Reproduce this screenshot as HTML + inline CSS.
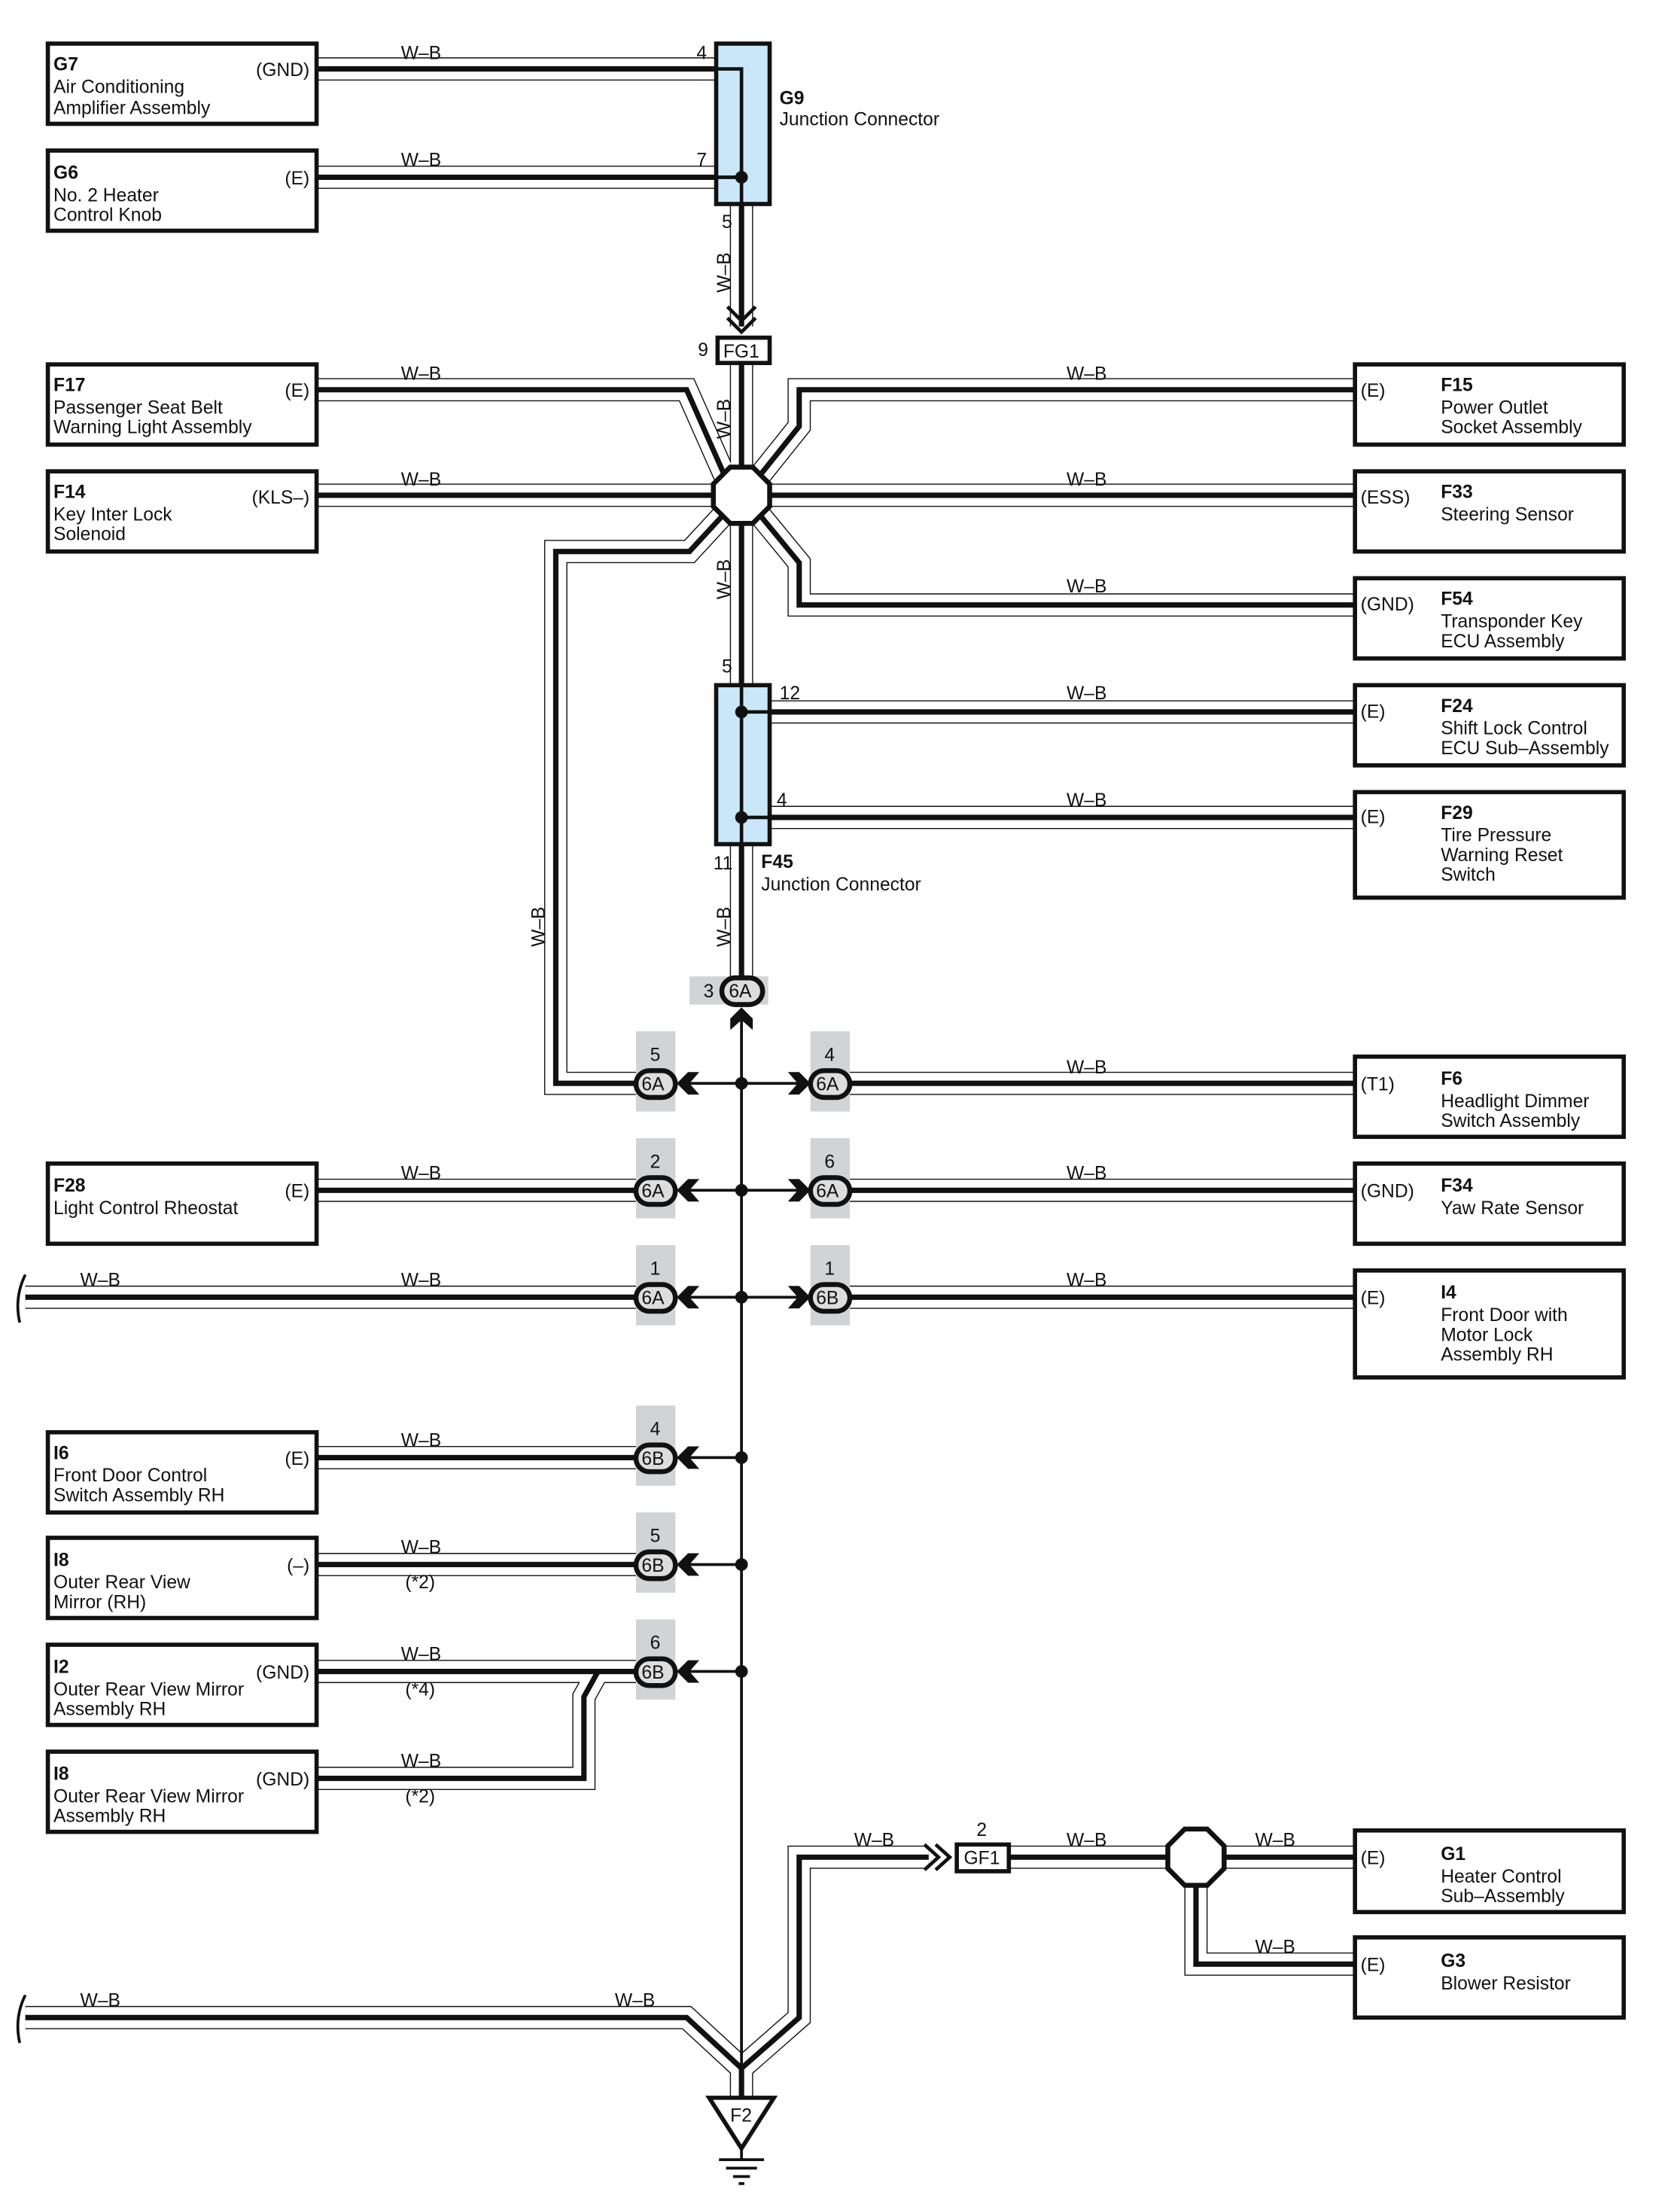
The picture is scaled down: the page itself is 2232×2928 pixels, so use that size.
<!DOCTYPE html>
<html><head><meta charset="utf-8"><style>
html,body{margin:0;padding:0;background:#fff}
svg{display:block}
text{font-family:"Liberation Sans",sans-serif;font-size:13.2px;fill:#111}
.b{font-weight:bold}
.box{fill:#fff;stroke:#111;stroke-width:3}
.o{fill:none;stroke:#111;stroke-width:16.5;stroke-linejoin:miter}
.i{fill:none;stroke:#fff;stroke-width:15}
.c{fill:none;stroke:#111;stroke-width:3.8}
.t{fill:none;stroke:#111;stroke-width:2}
.gr{fill:#d2d3d5}
.cn{fill:#ddd;stroke:#111;stroke-width:3.5}
</style></head><body>
<svg width="2232" height="2928" viewBox="0 0 1194 1566.5" preserveAspectRatio="none" xmlns="http://www.w3.org/2000/svg">
<defs>
<path id="w1" d="M225 49 H509"/>
<path id="w2" d="M225 126 H509"/>
<path id="w3" d="M527 145 V232"/>
<path id="w4" d="M527 258 V334"/>
<path id="w5" d="M225 277 H488 L515 338"/>
<path id="w6" d="M225 352 H509"/>
<path id="w7" d="M963 277 H568 V303 L540 338"/>
<path id="w8" d="M963 352 H545"/>
<path id="w9" d="M963 430 H568 V400 L540 366"/>
<path id="w10" d="M514 366 L490 392 H395 V770 H452"/>
<path id="w11" d="M527 370 V487"/>
<path id="w12" d="M547 506 H963"/>
<path id="w13" d="M547 581 H963"/>
<path id="w14" d="M527 600 V694"/>
<path id="w15" d="M603 770 H963"/>
<path id="w16" d="M225 846 H452"/>
<path id="w17" d="M603 846 H963"/>
<path id="w18" d="M18 922 H452"/>
<path id="w19" d="M603 922 H963"/>
<path id="w20" d="M225 1036 H452"/>
<path id="w21" d="M225 1112 H452"/>
<path id="w22" d="M225 1188 H452"/>
<path id="w23" d="M225 1264 H415 V1206 L425 1188"/>
<path id="w24" d="M18 1434 H488 L527 1470"/>
<path id="w25" d="M660 1320 H568 V1434 L527 1470"/>
<path id="w26" d="M717 1320 H832"/>
<path id="w27" d="M868 1320 H963"/>
<path id="w28" d="M850 1338 V1396 H963"/>
<path id="w29" d="M527 1470 V1490"/>
</defs>
<g class="o"><use href="#w1"/><use href="#w2"/><use href="#w3"/><use href="#w4"/><use href="#w5"/><use href="#w6"/><use href="#w7"/><use href="#w8"/><use href="#w9"/><use href="#w10"/><use href="#w11"/><use href="#w12"/><use href="#w13"/><use href="#w14"/><use href="#w15"/><use href="#w16"/><use href="#w17"/><use href="#w18"/><use href="#w19"/><use href="#w20"/><use href="#w21"/><use href="#w22"/><use href="#w23"/><use href="#w24"/><use href="#w25"/><use href="#w26"/><use href="#w27"/><use href="#w28"/><use href="#w29"/></g>
<g class="i"><use href="#w1"/><use href="#w2"/><use href="#w3"/><use href="#w4"/><use href="#w5"/><use href="#w6"/><use href="#w7"/><use href="#w8"/><use href="#w9"/><use href="#w10"/><use href="#w11"/><use href="#w12"/><use href="#w13"/><use href="#w14"/><use href="#w15"/><use href="#w16"/><use href="#w17"/><use href="#w18"/><use href="#w19"/><use href="#w20"/><use href="#w21"/><use href="#w22"/><use href="#w23"/><use href="#w24"/><use href="#w25"/><use href="#w26"/><use href="#w27"/><use href="#w28"/><use href="#w29"/></g>
<g class="c"><use href="#w1"/><use href="#w2"/><use href="#w3"/><use href="#w4"/><use href="#w5"/><use href="#w6"/><use href="#w7"/><use href="#w8"/><use href="#w9"/><use href="#w10"/><use href="#w11"/><use href="#w12"/><use href="#w13"/><use href="#w14"/><use href="#w15"/><use href="#w16"/><use href="#w17"/><use href="#w18"/><use href="#w19"/><use href="#w20"/><use href="#w21"/><use href="#w22"/><use href="#w23"/><use href="#w24"/><use href="#w25"/><use href="#w26"/><use href="#w27"/><use href="#w28"/><use href="#w29"/></g>

<rect x="509" y="31" width="38" height="114" fill="#c9e7f8" stroke="#111" stroke-width="3"/>
<path d="M509 49 H527 V145 M509 126 H527" fill="none" stroke="#111" stroke-width="2.5"/>
<circle cx="527" cy="126" r="4.5" fill="#111"/>
<text x="495" y="42">4</text><text x="495" y="118">7</text><text x="513" y="162">5</text>
<text x="554" y="74" class="b">G9</text><text x="554" y="89">Junction Connector</text>
<path d="M517 218 L527 228 L537 218 M517 226 L527 236 L537 226" fill="none" stroke="#111" stroke-width="2.5"/>
<rect x="510" y="240" width="37" height="18" class="box"/>
<text x="514" y="254">FG1</text><text x="496" y="253">9</text>
<polygon points="519,332 535,332 547,344 547,360 535,372 519,372 507,360 507,344" fill="#fff" stroke="#111" stroke-width="3.5"/>
<polygon points="842,1300 858,1300 870,1312 870,1328 858,1340 842,1340 830,1328 830,1312" fill="#fff" stroke="#111" stroke-width="3.5"/>
<rect x="509" y="487" width="38" height="113" fill="#c9e7f8" stroke="#111" stroke-width="3"/>
<path d="M527 487 V600 M527 506 H547 M527 581 H547" fill="none" stroke="#111" stroke-width="2.5"/>
<circle cx="527" cy="506" r="4.5" fill="#111"/><circle cx="527" cy="581" r="4.5" fill="#111"/>
<text x="513" y="478">5</text><text x="554" y="497">12</text><text x="552" y="573">4</text><text x="507" y="618">11</text>
<text x="541" y="617" class="b">F45</text><text x="541" y="633">Junction Connector</text>
<g><text transform="translate(519,208) rotate(-90)">W–B</text><text transform="translate(519,312) rotate(-90)">W–B</text><text transform="translate(519,426) rotate(-90)">W–B</text><text transform="translate(519,673) rotate(-90)">W–B</text><text transform="translate(387,673) rotate(-90)">W–B</text></g>
<rect x="490" y="694" width="56" height="20" class="gr"/>
<text x="500" y="709">3</text>
<rect x="513" y="695" width="29" height="19" rx="9.5" class="cn"/><text x="518" y="709">6A</text>
<polygon points="527,716 535,724 535,732 527,725 519,732 519,724" fill="#111"/>
<line x1="527" y1="725" x2="527" y2="1490" class="t"/>
<g>
<rect x="452" y="733" width="28" height="57" class="gr"/><rect x="576" y="733" width="28" height="57" class="gr"/>
<rect x="452" y="809" width="28" height="57" class="gr"/><rect x="576" y="809" width="28" height="57" class="gr"/>
<rect x="452" y="885" width="28" height="57" class="gr"/><rect x="576" y="885" width="28" height="57" class="gr"/>
<rect x="452" y="999" width="28" height="57" class="gr"/>
<rect x="452" y="1075" width="28" height="57" class="gr"/>
<rect x="452" y="1151" width="28" height="57" class="gr"/>
</g>
<g fill="none" stroke="#111" stroke-width="2">
<path d="M490 770 H576 M490 846 H576 M490 922 H576 M490 1036 H527 M490 1112 H527 M490 1188 H527"/>
</g>
<g fill="#111">
<circle cx="527" cy="770" r="4.5"/><circle cx="527" cy="846" r="4.5"/><circle cx="527" cy="922" r="4.5"/><circle cx="527" cy="1036" r="4.5"/><circle cx="527" cy="1112" r="4.5"/><circle cx="527" cy="1188" r="4.5"/>
<polygon points="481,770 489,762 497,762 490,770 497,778 489,778"/>
<polygon points="481,846 489,838 497,838 490,846 497,854 489,854"/>
<polygon points="481,922 489,914 497,914 490,922 497,930 489,930"/>
<polygon points="481,1036 489,1028 497,1028 490,1036 497,1044 489,1044"/>
<polygon points="481,1112 489,1104 497,1104 490,1112 497,1120 489,1120"/>
<polygon points="481,1188 489,1180 497,1180 490,1188 497,1196 489,1196"/>
<polygon points="576,770 568,762 560,762 567,770 560,778 568,778"/>
<polygon points="576,846 568,838 560,838 567,846 560,854 568,854"/>
<polygon points="576,922 568,914 560,914 567,922 560,930 568,930"/>
</g>
<g>
<rect x="452" y="761" width="28" height="19" rx="9.5" class="cn"/><text x="456" y="775">6A</text><text x="462" y="754">5</text>
<rect x="576" y="761" width="28" height="19" rx="9.5" class="cn"/><text x="580" y="775">6A</text><text x="586" y="754">4</text>
<rect x="452" y="837" width="28" height="19" rx="9.5" class="cn"/><text x="456" y="851">6A</text><text x="462" y="830">2</text>
<rect x="576" y="837" width="28" height="19" rx="9.5" class="cn"/><text x="580" y="851">6A</text><text x="586" y="830">6</text>
<rect x="452" y="913" width="28" height="19" rx="9.5" class="cn"/><text x="456" y="927">6A</text><text x="462" y="906">1</text>
<rect x="576" y="913" width="28" height="19" rx="9.5" class="cn"/><text x="580" y="927">6B</text><text x="586" y="906">1</text>
<rect x="452" y="1027" width="28" height="19" rx="9.5" class="cn"/><text x="456" y="1041">6B</text><text x="462" y="1020">4</text>
<rect x="452" y="1103" width="28" height="19" rx="9.5" class="cn"/><text x="456" y="1117">6B</text><text x="462" y="1096">5</text>
<rect x="452" y="1179" width="28" height="19" rx="9.5" class="cn"/><text x="456" y="1193">6B</text><text x="462" y="1172">6</text>
</g>
<path d="M18 906 Q10 922 14 940 M18 1418 Q10 1434 14 1452" fill="none" stroke="#111" stroke-width="2"/>
<path d="M657 1311 L667 1320 L657 1329 M665 1311 L675 1320 L665 1329" fill="none" stroke="#111" stroke-width="2.5"/>
<rect x="680" y="1311" width="37" height="19" class="box"/><text x="685" y="1325">GF1</text><text x="694" y="1305">2</text>
<polygon points="504,1491 550,1491 527,1527" fill="#fff" stroke="#111" stroke-width="3"/>
<text x="519" y="1508">F2</text>
<path d="M527 1527 V1535 M511 1535 H543 M516 1541 H538 M521 1547 H533 M525 1552 H529" stroke="#111" stroke-width="2"/>
<g>
<text x="285" y="42">W–B</text><text x="285" y="118">W–B</text><text x="285" y="270">W–B</text><text x="285" y="345">W–B</text>
<text x="758" y="270">W–B</text><text x="758" y="345">W–B</text><text x="758" y="421">W–B</text><text x="758" y="497">W–B</text><text x="758" y="573">W–B</text>
<text x="758" y="763">W–B</text><text x="758" y="838">W–B</text><text x="758" y="914">W–B</text>
<text x="285" y="838">W–B</text><text x="285" y="914">W–B</text><text x="57" y="914">W–B</text>
<text x="285" y="1028">W–B</text><text x="285" y="1104">W–B</text><text x="285" y="1180">W–B</text><text x="285" y="1256">W–B</text>
<text x="288" y="1129">(*2)</text><text x="288" y="1205">(*4)</text><text x="288" y="1281">(*2)</text>
<text x="57" y="1426">W–B</text><text x="437" y="1426">W–B</text>
<text x="607" y="1312">W–B</text><text x="758" y="1312">W–B</text><text x="892" y="1312">W–B</text><text x="892" y="1388">W–B</text>
</g>
<g>
<rect x="34" y="31" width="191" height="57" class="box"/><text x="38" y="50" class="b">G7</text><text x="38" y="66">Air Conditioning</text><text x="38" y="81">Amplifier Assembly</text><text x="220" y="54" text-anchor="end">(GND)</text>
<rect x="34" y="107" width="191" height="57" class="box"/><text x="38" y="127" class="b">G6</text><text x="38" y="143">No. 2 Heater</text><text x="38" y="157">Control Knob</text><text x="220" y="131" text-anchor="end">(E)</text>
<rect x="34" y="259" width="191" height="57" class="box"/><text x="38" y="278" class="b">F17</text><text x="38" y="294">Passenger Seat Belt</text><text x="38" y="308">Warning Light Assembly</text><text x="220" y="282" text-anchor="end">(E)</text>
<rect x="34" y="335" width="191" height="57" class="box"/><text x="38" y="354" class="b">F14</text><text x="38" y="370">Key Inter Lock</text><text x="38" y="384">Solenoid</text><text x="220" y="358" text-anchor="end">(KLS–)</text>
<rect x="34" y="827" width="191" height="57" class="box"/><text x="38" y="847" class="b">F28</text><text x="38" y="863">Light Control Rheostat</text><text x="220" y="851" text-anchor="end">(E)</text>
<rect x="34" y="1018" width="191" height="57" class="box"/><text x="38" y="1037" class="b">I6</text><text x="38" y="1053">Front Door Control</text><text x="38" y="1067">Switch Assembly RH</text><text x="220" y="1041" text-anchor="end">(E)</text>
<rect x="34" y="1093" width="191" height="57" class="box"/><text x="38" y="1113" class="b">I8</text><text x="38" y="1129">Outer Rear View</text><text x="38" y="1143">Mirror (RH)</text><text x="220" y="1117" text-anchor="end">(–)</text>
<rect x="34" y="1169" width="191" height="57" class="box"/><text x="38" y="1189" class="b">I2</text><text x="38" y="1205">Outer Rear View Mirror</text><text x="38" y="1219">Assembly RH</text><text x="220" y="1193" text-anchor="end">(GND)</text>
<rect x="34" y="1245" width="191" height="57" class="box"/><text x="38" y="1265" class="b">I8</text><text x="38" y="1281">Outer Rear View Mirror</text><text x="38" y="1295">Assembly RH</text><text x="220" y="1269" text-anchor="end">(GND)</text>
</g>
<g>
<rect x="963" y="259" width="191" height="57" class="box"/><text x="967" y="282">(E)</text><text x="1024" y="278" class="b">F15</text><text x="1024" y="294">Power Outlet</text><text x="1024" y="308">Socket Assembly</text>
<rect x="963" y="335" width="191" height="57" class="box"/><text x="967" y="358">(ESS)</text><text x="1024" y="354" class="b">F33</text><text x="1024" y="370">Steering Sensor</text>
<rect x="963" y="411" width="191" height="57" class="box"/><text x="967" y="434">(GND)</text><text x="1024" y="430" class="b">F54</text><text x="1024" y="446">Transponder Key</text><text x="1024" y="460">ECU Assembly</text>
<rect x="963" y="487" width="191" height="57" class="box"/><text x="967" y="510">(E)</text><text x="1024" y="506" class="b">F24</text><text x="1024" y="522">Shift Lock Control</text><text x="1024" y="536">ECU Sub–Assembly</text>
<rect x="963" y="563" width="191" height="75" class="box"/><text x="967" y="585">(E)</text><text x="1024" y="582" class="b">F29</text><text x="1024" y="598">Tire Pressure</text><text x="1024" y="612">Warning Reset</text><text x="1024" y="626">Switch</text>
<rect x="963" y="751" width="191" height="57" class="box"/><text x="967" y="775">(T1)</text><text x="1024" y="771" class="b">F6</text><text x="1024" y="787">Headlight Dimmer</text><text x="1024" y="801">Switch Assembly</text>
<rect x="963" y="827" width="191" height="57" class="box"/><text x="967" y="851">(GND)</text><text x="1024" y="847" class="b">F34</text><text x="1024" y="863">Yaw Rate Sensor</text>
<rect x="963" y="903" width="191" height="76" class="box"/><text x="967" y="927">(E)</text><text x="1024" y="923" class="b">I4</text><text x="1024" y="939">Front Door with</text><text x="1024" y="953">Motor Lock</text><text x="1024" y="967">Assembly RH</text>
<rect x="963" y="1301" width="191" height="58" class="box"/><text x="967" y="1325">(E)</text><text x="1024" y="1322" class="b">G1</text><text x="1024" y="1338">Heater Control</text><text x="1024" y="1352">Sub–Assembly</text>
<rect x="963" y="1377" width="191" height="57" class="box"/><text x="967" y="1401">(E)</text><text x="1024" y="1398" class="b">G3</text><text x="1024" y="1414">Blower Resistor</text>
</g>
</svg>
</body></html>
